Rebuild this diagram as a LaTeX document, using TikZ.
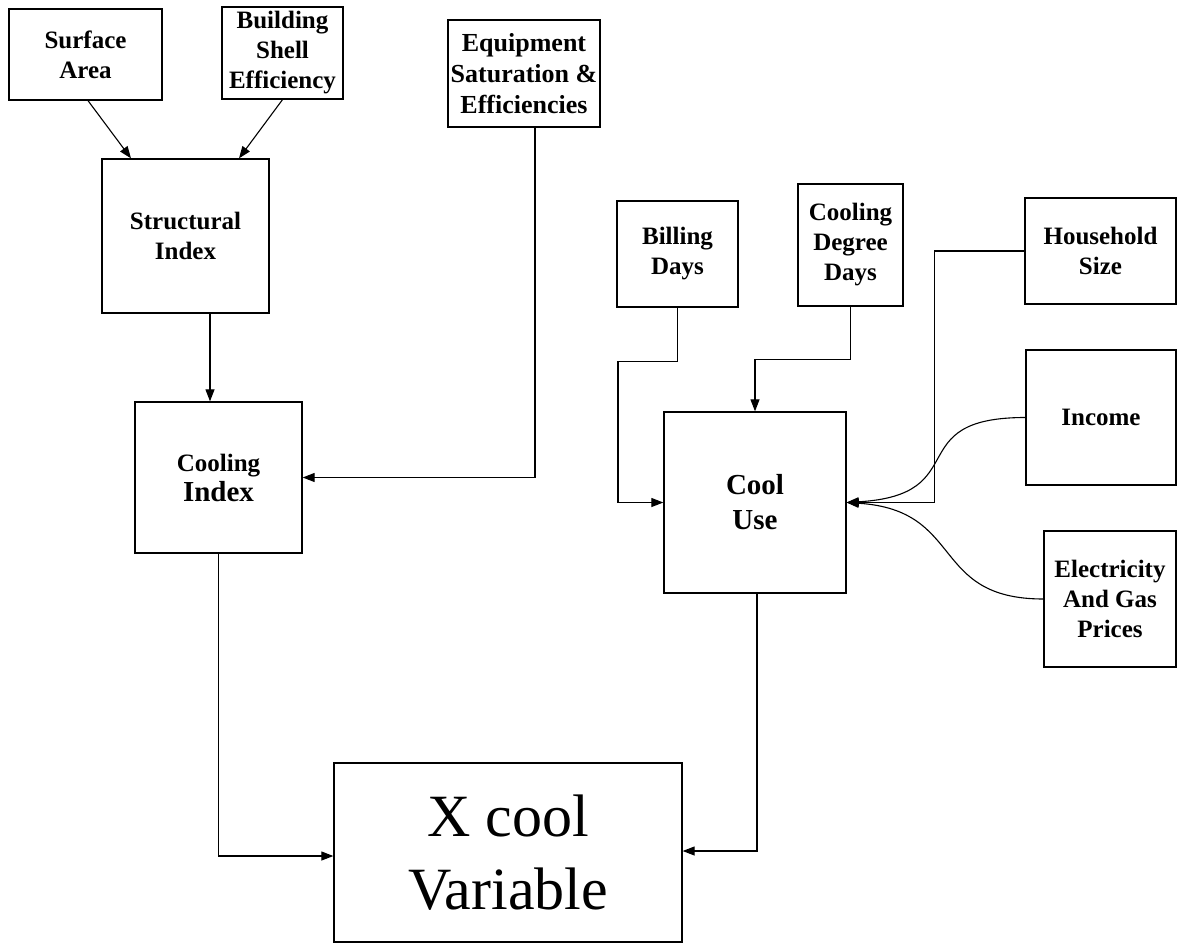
\documentclass[tikz,border=0pt]{standalone}
\usepackage{fontspec}
\setmainfont{Liberation Serif}
\usetikzlibrary{arrows.meta,calc}

\tikzset{
  box/.style={draw, line width=1.3pt, inner sep=0pt, align=center,
              font=\bfseries\fontsize{25}{30}\selectfont},
  link/.style={line width=1.1pt, -{Triangle[length=12pt,width=9pt]}},
}

\begin{document}
\begin{tikzpicture}[x=1pt,y=-1pt]
  \useasboundingbox (0,0) rectangle (1177,944);

  % structural side
  \node[box, minimum width=153, minimum height=91] (sa) at (85.5,54.5) {Surface\\Area};
  \node[box, minimum width=121, minimum height=92] (bse) at (282.5,53) {Building\\Shell\\Efficiency};
  \node[box, minimum width=152, minimum height=107,
        font=\bfseries\fontsize{26}{31}\selectfont] (eq) at (524,73.5) {Equipment\\Saturation \&\\Efficiencies};
  \node[box, minimum width=167, minimum height=154] (si) at (185.5,236) {Structural\\Index};
  \node[box, minimum width=167, minimum height=151] (ci) at (218.5,477.5)
       {{\fontsize{25}{30}\selectfont Cooling}\\{\fontsize{29}{34}\selectfont Index}};

  % usage side
  \node[box, minimum width=121, minimum height=106] (bd) at (677.5,254) {Billing\\Days};
  \node[box, minimum width=105, minimum height=122] (cdd) at (850.5,245) {Cooling\\Degree\\Days};
  \node[box, minimum width=151, minimum height=106] (hs) at (1100.5,251) {Household\\Size};
  \node[box, minimum width=150, minimum height=135] (inc) at (1101,417.5) {Income};
  \node[box, minimum width=132, minimum height=136] (elec) at (1110,599) {Electricity\\And Gas\\Prices};
  \node[box, minimum width=182, minimum height=181,
        font=\bfseries\fontsize{29}{35}\selectfont] (cu) at (755,502.5) {Cool\\Use};

  % result
  \node[box, minimum width=348, minimum height=179,
        font=\fontsize{60}{73}\selectfont] (xc) at (508,852.5) {X cool\\Variable};

  % connectors
  \draw[link] ($(sa.south)+(2.5,0)$) -- ($(si.north)+(-54.5,0)$);
  \draw[link] (bse.south) -- ($(si.north)+(53.5,0)$);

  \coordinate (siout) at ($(si.south)+(24.5,0)$);
  \draw[link] (siout) -- (siout |- ci.north);

  \coordinate (eqout) at ($(eq.south)+(11,0)$);
  \draw[link] (eqout) |- (ci.east);

  \draw[link] (ci.south) |- ($(xc.west)+(0,3.5)$);
  \draw[link] ($(cu.south)+(2,0)$) |- ($(xc.east)+(0,-1.5)$);

  \draw[link] (bd.south) -- ++(0,54) -- ++(-59.5,0) |- (cu.west);
  \draw[link] (cdd.south) -- ++(0,53) -| (cu.north);
  \draw[link] (hs.west) -- ++(-90,0) |- (cu.east);
  \draw[link] (inc.west) .. controls +(-126,0) and +(129,-7.5) .. (cu.east);
  \draw[link] (elec.west) .. controls +(-114,0) and +(119,7.5) .. (cu.east);
\end{tikzpicture}
\end{document}
